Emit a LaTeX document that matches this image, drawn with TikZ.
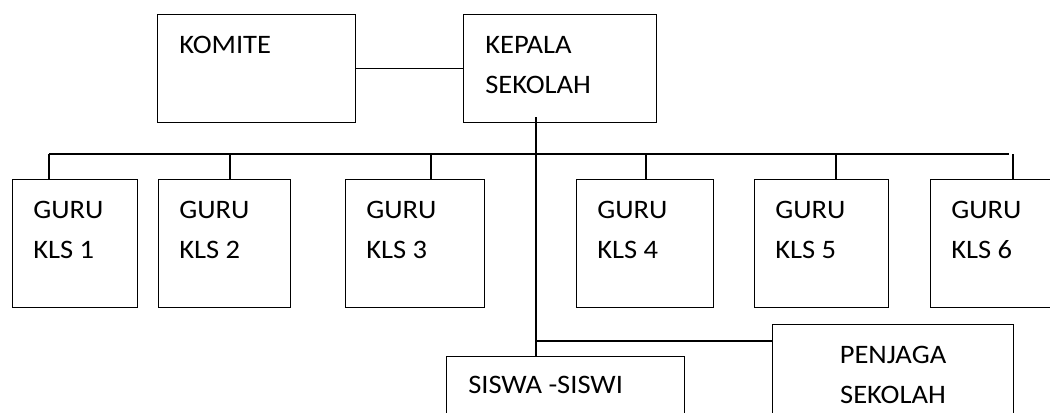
\documentclass[tikz,border=0pt]{standalone}
\usepackage{fontspec}
\setmainfont{Carlito}[FakeStretch=1.07]
\begin{document}
\begin{tikzpicture}[x=0.75pt,y=-0.75pt,
  box/.style={draw,line width=1.1pt,rectangle,anchor=north west,inner sep=0pt,minimum height=#1*0.75pt},
  box/.default=128,
  lbl/.style={anchor=base west,inner sep=0pt,font=\fontsize{20}{24}\selectfont},
  lblc/.style={anchor=base,inner sep=0pt,font=\fontsize{20}{24}\selectfont},
  conn/.style={line width=1.1pt}]
\useasboundingbox (0,0) rectangle (1050,412);
% top boxes
\node[box=108,minimum width=198*0.75pt] (komite) at (157,14) {};
\node[box=108,minimum width=193*0.75pt] (kepala) at (463,14) {};
\node[lbl] (tkomite) at (179,53) {KOMITE};
\node[lbl] (tkepala1) at (485,53) {KEPALA};
\node[lbl] (tkepala2) at (485,93) {SEKOLAH};
% guru boxes
\node[box,minimum width=125*0.75pt] (g1) at (12,179) {};
\node[box,minimum width=132*0.75pt] (g2) at (158,179) {};
\node[box,minimum width=139*0.75pt] (g3) at (345,179) {};
\node[box,minimum width=137*0.75pt] (g4) at (576,179) {};
\node[box,minimum width=134*0.75pt] (g5) at (754,179) {};
\node[box,minimum width=135*0.75pt] (g6) at (930,179) {};
\foreach \n/\x in {1/33,2/179,3/366,4/597,5/775,6/951}{
  \node[lbl] (ta\n) at (\x,218) {GURU};
  \node[lbl] (tb\n) at (\x,258) {KLS \n};
}
% bottom boxes
\node[box=80,minimum width=238*0.75pt] (siswa) at (446,356) {};
\node[box=110,minimum width=241*0.75pt] (penjaga) at (772,324) {};
\node[lbl] (tsiswa) at (468,393) {SISWA -SISWI};
\node[lblc] (tpenjaga1) at (893,363) {PENJAGA};
\node[lblc] (tpenjaga2) at (893,403) {SEKOLAH};
% connectors
\draw[conn] (komite.east) -- (kepala.west);
\coordinate (ktop) at (536,117);
\coordinate (bl) at (49,154);
\coordinate (br) at (1009,154);
\coordinate (j) at (536,341);
\draw[conn] (ktop) -- (ktop |- siswa.north);
\draw[conn] (bl) -- (br);
\draw[conn] (bl) -- (bl |- g1.north);
\draw[conn] (230,154) -- (230,179);
\draw[conn] (431,154) -- (431,179);
\draw[conn] (646,154) -- (646,179);
\draw[conn] (836,154) -- (836,179);
\draw[conn] (1013,154) -- (1013,179);
\draw[conn] (j) -- (j -| penjaga.west);
\end{tikzpicture}
\end{document}
